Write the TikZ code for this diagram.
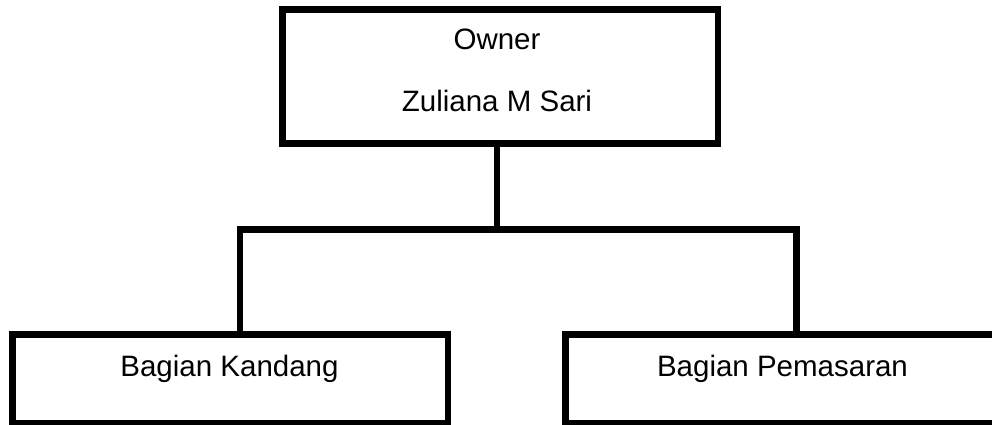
\documentclass[tikz,border=0pt]{standalone}
\usepackage{fontspec}
\setmainfont{Liberation Sans}
\begin{document}
\begin{tikzpicture}[x=1pt,y=-1pt,
  box/.style={draw, line width=6.7pt, rectangle, inner sep=0pt, outer sep=0pt},
  conn/.style={line width=6.7pt, line join=miter},
  lbl/.style={font=\fontsize{29.5}{34}\selectfont, inner sep=0pt, anchor=base}]
\clip (0,0) rectangle (992,425);
% owner box and its two lines of text
\node[box, minimum width=435.5pt, minimum height=133.8pt] (owner) at (500.25,76.4) {};
\node[lbl] (ownerrole) at (497,50) {Owner};
\node[lbl] (ownername) at (497,111.7) {Zuliana M Sari};
% the two departments
\node[box, minimum width=435.3pt, minimum height=89pt] (kandang) at (230.35,379) {};
\node[box, minimum width=434pt, minimum height=89pt] (pemasaran) at (782.7,379) {};
\node[lbl] (kandangtext) at (229.5,376.7) {Bagian Kandang};
\node[lbl] (pemasarantext) at (782.5,376.7) {Bagian Pemasaran};
% branch connectors
\coordinate (j) at (497,229.3);
\coordinate (lk) at (240,229.3);
\coordinate (rk) at (796.5,229.3);
\draw[conn] (owner.south -| j) -- (j);
\draw[conn] (kandang.north -| lk) -- (lk) -- (rk) -- (pemasaran.north -| rk);
\end{tikzpicture}
\end{document}
